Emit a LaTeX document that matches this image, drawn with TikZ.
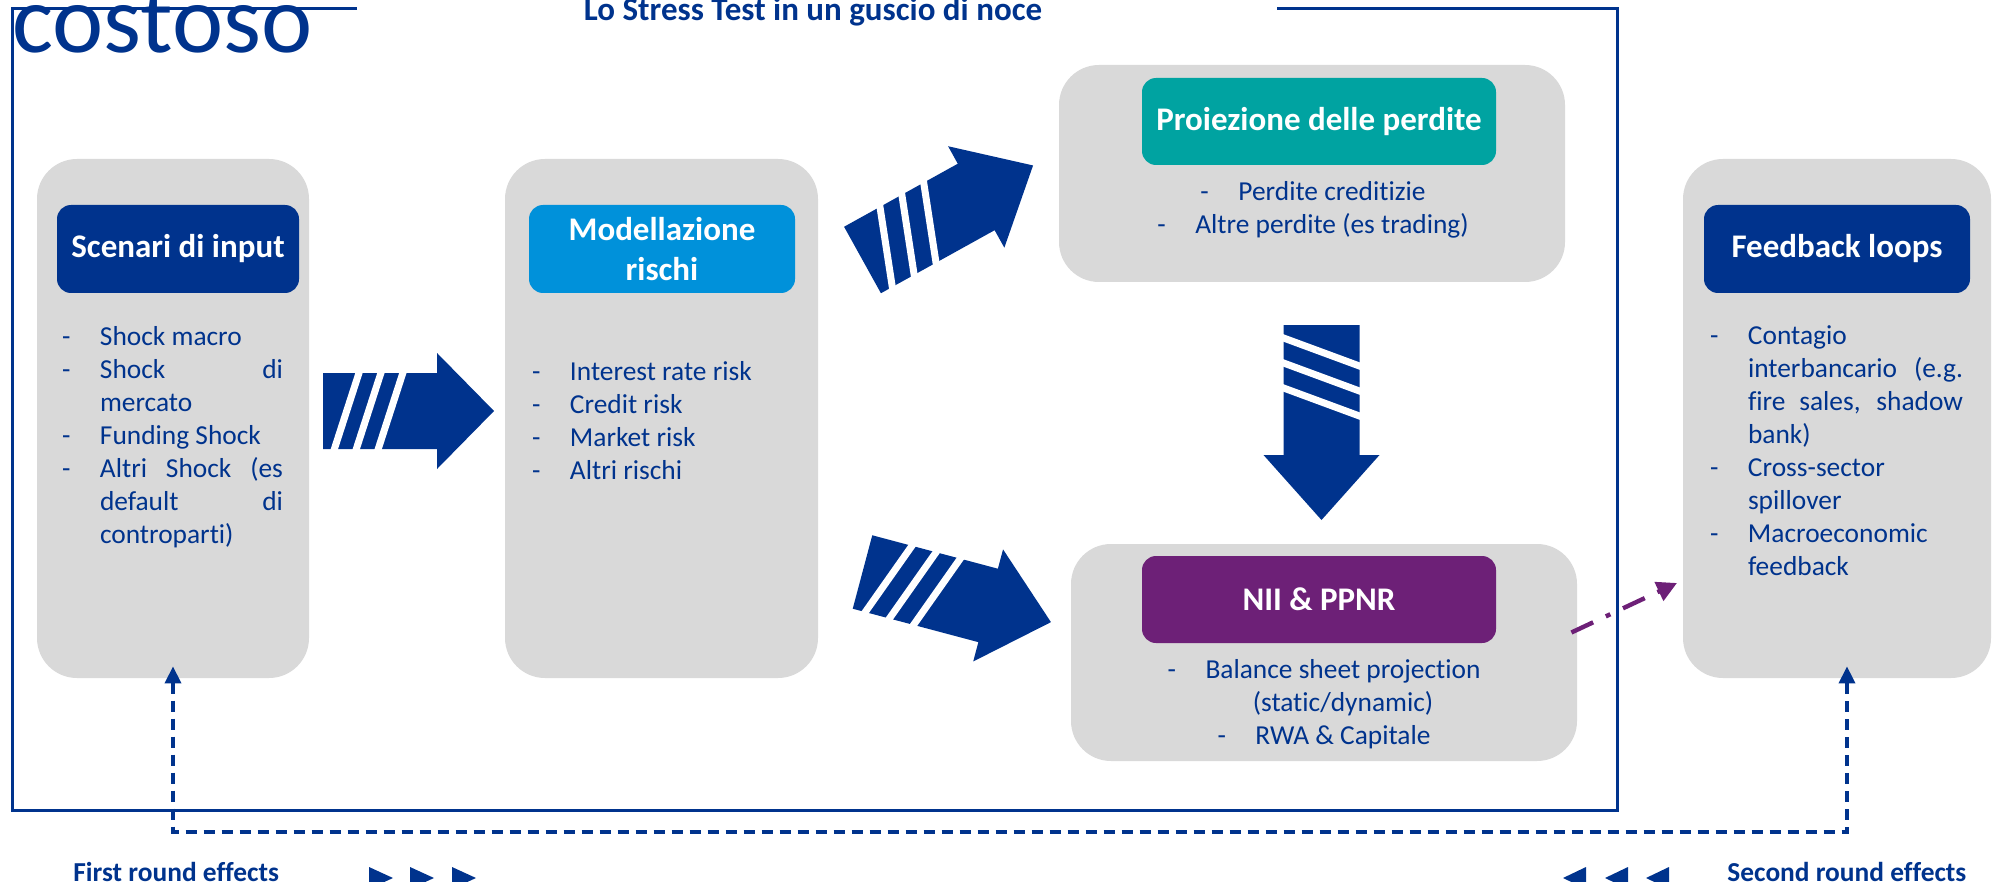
\documentclass[tikz,border=0pt]{standalone}
\usepackage{fontspec}
\setmainfont{Carlito}[Ligatures=NoCommon]
\usetikzlibrary{shapes,arrows,arrows.meta}
\pgfdeclarelayer{background}
\pgfdeclarelayer{foreground}
\pgfsetlayers{background,main,foreground}
\definecolor{navy}{RGB}{0,51,141}
\definecolor{skyblue}{RGB}{0,145,218}
\definecolor{tealhd}{RGB}{0,163,161}
\definecolor{plumhd}{RGB}{109,32,119}
\definecolor{panelgray}{RGB}{217,217,217}
\newcommand{\bodyfont}{\fontsize{13.7pt}{16.5pt}\selectfont}
\newcommand{\headfont}{\fontsize{16.5pt}{20pt}\selectfont\bfseries}
\newcommand{\lstitem}[1]{\makebox[19pt][l]{-}#1}
\newcommand{\lstcont}[1]{\hspace*{19pt}#1}
\newcommand{\lstjust}[2]{\makebox[#1][s]{#2}}
% block arrow with three white cuts: tail x, tail y, angle, length scale
\newcommand{\stripedarrow}[4]{%
    \begin{scope}[shift={(#1,#2)}, rotate=#3, xscale=#4]
        \fill[navy] (0,-38) -- (130,-38) -- (130,-58) -- (195,0)
            -- (130,58) -- (130,38) -- (0,38) -- cycle;
        \draw[white, line width=3.5pt] (11.5,42) -- (42.5,-42);
        \draw[white, line width=3.5pt] (36.5,42) -- (67.5,-42);
        \draw[white, line width=3.5pt] (61.5,42) -- (92.5,-42);
    \end{scope}}
\tikzstyle{panel}=[fill=panelgray, rounded corners=20pt, inner sep=0pt,
    minimum width=136pt, minimum height=259.5pt]
\tikzstyle{panelw}=[panel, minimum width=253pt, minimum height=108.5pt]
\tikzstyle{hdr}=[text=white, font=\headfont, rounded corners=7pt,
    inner sep=0pt, align=center, minimum width=133pt, minimum height=44pt]
\tikzstyle{hdrdark}=[hdr, fill=navy]
\tikzstyle{hdrsky}=[hdr, fill=skyblue]
\tikzstyle{hdrteal}=[hdr, fill=tealhd, minimum width=177pt, minimum height=43.5pt]
\tikzstyle{hdrplum}=[hdr, fill=plumhd, minimum width=177pt, minimum height=43.5pt]
\tikzstyle{txt}=[text=navy, font=\bodyfont, inner sep=0pt]
\tikzstyle{lst}=[txt, align=left, anchor=north west]
\tikzstyle{lstc}=[txt, align=center, anchor=north]
\tikzstyle{frame}=[navy, line width=1.5pt]
\tikzstyle{fbloop}=[navy, line width=1.8pt, dash pattern=on 5.5pt off 3.5pt]
\tikzstyle{spill}=[plumhd, line width=2.2pt, dash pattern=on 12pt off 7pt on 2.5pt off 7pt]

\begin{document}
\begin{tikzpicture}[x=0.5pt, y=-0.5pt]
    \useasboundingbox (0,0) rectangle (1997,882);

    \path (12,53) node (logo)[txt, anchor=base west,
        font=\fontsize{48.5pt}{58pt}\selectfont] {costoso};
    \path (813,21) node (title)[txt, anchor=base, font=\headfont]
        {Lo Stress Test in un guscio di noce};

    % headers
    \path (178,249) node (scenh)[hdrdark, minimum width=121pt] {Scenari di input};
    \path (662,249) node (modelh)[hdrsky] {Modellazione\\rischi};
    \path (1319,121.5) node (proieh)[hdrteal] {Proiezione delle perdite};
    \path (1319,599.5) node (niih)[hdrplum] {NII \& PPNR};
    \path (1837,249) node (feedh)[hdrdark] {Feedback loops};

    % lists
    \path (scenh.south west)+(5,29) node (scenb)[lst] {%
        \strut\lstitem{Shock macro}\\
        \lstitem{\lstjust{91.5pt}{Shock di}}\\
        \lstcont{mercato}\\
        \lstitem{Funding Shock}\\
        \lstitem{\lstjust{91.5pt}{Altri Shock (es}}\\
        \lstcont{\lstjust{91.5pt}{default di}}\\
        \lstcont{controparti)}};
    \path (modelh.south west)+(3,64) node (modelb)[lst] {%
        \strut\lstitem{Interest rate risk}\\
        \lstitem{Credit risk}\\
        \lstitem{Market risk}\\
        \lstitem{Altri rischi}};
    \path (proieh.south)+(-6,12) node (proieb)[lstc] {%
        \strut\lstitem{Perdite creditizie}\\
        \lstitem{Altre perdite (es trading)}};
    \path (niih.south)+(5,12) node (niib)[lstc] {%
        \strut\lstitem{Balance sheet projection}\\
        \lstcont{(static/dynamic)}\\
        \lstitem{RWA \& Capitale}};
    \path (feedh.south west)+(6,28) node (feedb)[lst] {%
        \strut\lstitem{Contagio}\\
        \lstcont{\lstjust{107.5pt}{interbancario (e.g.}}\\
        \lstcont{\lstjust{107.5pt}{fire sales, shadow}}\\
        \lstcont{bank)}\\
        \lstitem{Cross-sector}\\
        \lstcont{spillover}\\
        \lstitem{Macroeconomic}\\
        \lstcont{feedback}};

    \begin{pgfonlayer}{background}
        \path (173,418.5) node (scen)[panel] {};
        \path (661.5,418.5) node (model)[panel, minimum width=156.5pt] {};
        \path (1312,173.5) node (proie)[panelw] {};
        \path (1324,652.5) node (nii)[panelw] {};
        \path (1837,418.5) node (feed)[panel, minimum width=154pt] {};
    \end{pgfonlayer}

    % frame round the stress test
    \draw[frame] (357,9) -| (12,810) -| (1617,9) -- (1277,9);

    %%% block arrows
    \stripedarrow{323}{411}{0}{0.877}
    \stripedarrow{862.5}{260}{29}{1}
    \stripedarrow{862.5}{572}{-14.9}{1}
    \stripedarrow{1321.5}{325}{-90}{1}

    %%% feedback connectors
    \coordinate (fbin) at (1677,583);
    \coordinate (loopr) at (1847,832);
    \draw[spill, -{Triangle[length=10pt,width=10pt]}]
        ([xshift=-3pt,yshift=10pt]nii.east) -- (fbin);
    \draw[fbloop, {Triangle[length=8.5pt,width=8pt]}-{Triangle[length=8.5pt,width=8pt]}]
        ([yshift=6pt]scen.south) |- (loopr) -- ([xshift=5pt,yshift=6pt]feed.south);

    % legend
    \path (73,881) node (first)[txt, anchor=base west, font=\bodyfont\bfseries]
        {First round effects};
    \path (1727,881) node (second)[txt, anchor=base west, font=\bodyfont\bfseries]
        {Second round effects};
    \fill[navy] (369,867) -- (393,878) -- (369,889) -- cycle;
    \fill[navy] (410,867) -- (434,878) -- (410,889) -- cycle;
    \fill[navy] (452,867) -- (476,878) -- (452,889) -- cycle;
    \fill[navy] (1563,878) -- (1586,867) -- (1586,889) -- cycle;
    \fill[navy] (1605,878) -- (1628,867) -- (1628,889) -- cycle;
    \fill[navy] (1646,878) -- (1669,867) -- (1669,889) -- cycle;
\end{tikzpicture}
\end{document}
